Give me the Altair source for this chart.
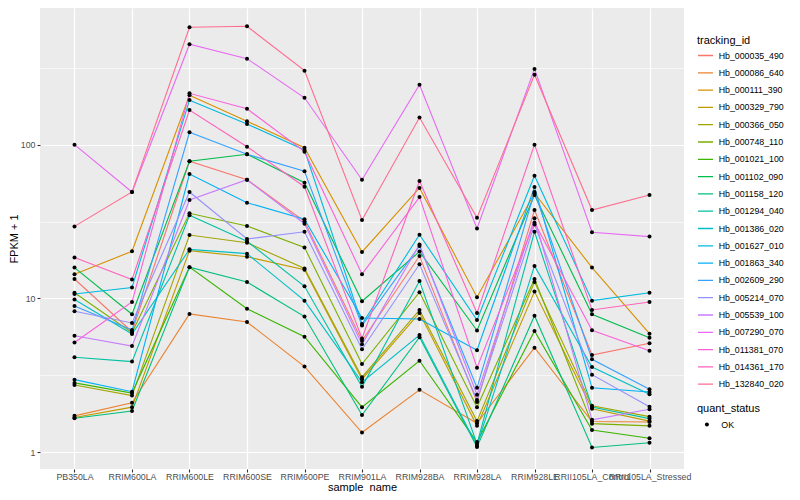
import altair as alt
import pandas as pd

samples = ["PB350LA", "RRIM600LA", "RRIM600LE", "RRIM600SE", "RRIM600PE",
           "RRIM901LA", "RRIM928BA", "RRIM928LA", "RRIM928LE",
           "RRII105LA_Control", "RRII105LA_Stressed"]

tracking_ids = ["Hb_000035_490", "Hb_000086_640", "Hb_000111_390", "Hb_000329_790",
                "Hb_000366_050", "Hb_000748_110", "Hb_001021_100", "Hb_001102_090",
                "Hb_001158_120", "Hb_001294_040", "Hb_001386_020", "Hb_001627_010",
                "Hb_001863_340", "Hb_002609_290", "Hb_005214_070", "Hb_005539_100",
                "Hb_007290_070", "Hb_011381_070", "Hb_014361_170", "Hb_132840_020"]

colors = ["#F8766D", "#EA8331", "#D89000", "#C09B00", "#A3A500", "#7CAE00",
          "#39B600", "#00BB4E", "#00BF7D", "#00C1A3", "#00BFC4", "#00BAE0",
          "#00B0F6", "#35A2FF", "#9590FF", "#C77CFF", "#E76BF3", "#FA62DB",
          "#FF62BC", "#FF6C91"]

# FPKM + 1 per sample (same order as samples)
Hb_000035_490 = [13.4, 6.08, 78.3, 59.4, 31.8, 5.31, 18.9, 2.12, 37.7, 4.28, 5.11]
Hb_000086_640 = [1.72, 2.09, 7.93, 7.03, 3.60, 1.34, 2.54, 1.54, 4.78, 1.58, 1.57]
Hb_000111_390 = [14.4, 20.3, 211, 143, 96.0, 20.1, 52.5, 10.2, 48.5, 15.9, 5.90]
Hb_000329_790 = [1.68, 1.96, 20.5, 18.7, 15.4, 2.98, 8.05, 1.48, 11.1, 1.91, 1.59]
Hb_000366_050 = [2.73, 2.33, 25.9, 23.1, 15.7, 3.07, 8.42, 1.59, 12.8, 2.00, 1.70]
Hb_000748_110 = [10.9, 5.99, 35.9, 29.7, 21.5, 3.74, 11.0, 1.96, 13.4, 1.53, 1.48]
Hb_001021_100 = [2.82, 2.42, 16.0, 8.58, 5.64, 1.96, 3.93, 1.16, 6.14, 1.39, 1.23]
Hb_001102_090 = [15.9, 7.89, 78.3, 87.0, 56.8, 9.59, 20.2, 6.19, 47.2, 7.89, 5.55]
Hb_001158_120 = [1.66, 1.85, 16.0, 12.8, 7.63, 1.74, 5.59, 1.08, 7.73, 1.07, 1.15]
Hb_001294_040 = [4.14, 3.88, 34.8, 23.6, 12.0, 2.66, 13.0, 1.13, 27.2, 1.96, 1.65]
Hb_001386_020 = [9.85, 5.87, 20.9, 19.6, 9.68, 2.85, 5.78, 1.10, 16.3, 3.58, 2.38]
Hb_001627_010 = [10.7, 11.8, 196, 137, 92.8, 6.82, 26.0, 7.24, 63.1, 9.68, 10.9]
Hb_001863_340 = [2.96, 2.47, 64.7, 42.1, 32.8, 7.46, 7.35, 4.60, 53.3, 2.62, 2.46]
Hb_002609_290 = [8.94, 6.23, 121, 87.0, 67.4, 6.67, 22.0, 2.62, 49.4, 4.02, 2.56]
Hb_005214_070 = [8.25, 6.93, 49.4, 24.4, 27.2, 4.67, 16.7, 2.18, 30.3, 3.19, 1.97]
Hb_005539_100 = [5.72, 4.90, 43.8, 59.4, 30.7, 5.03, 22.5, 2.36, 33.3, 1.62, 1.90]
Hb_007290_070 = [100.5, 49.4, 453, 365, 203, 59.4, 247, 28.6, 313, 27.0, 25.3]
Hb_011381_070 = [5.17, 9.49, 217, 172, 90.5, 14.4, 45.8, 3.54, 31.2, 6.21, 4.57]
Hb_014361_170 = [18.5, 13.3, 169, 97.5, 53.5, 5.49, 58.3, 8.05, 100.5, 8.42, 9.49]
Hb_132840_020 = [29.5, 49.4, 585, 593, 305, 32.5, 151, 33.6, 287, 37.7, 47.2]

series = {
    "Hb_000035_490": Hb_000035_490, "Hb_000086_640": Hb_000086_640,
    "Hb_000111_390": Hb_000111_390, "Hb_000329_790": Hb_000329_790,
    "Hb_000366_050": Hb_000366_050, "Hb_000748_110": Hb_000748_110,
    "Hb_001021_100": Hb_001021_100, "Hb_001102_090": Hb_001102_090,
    "Hb_001158_120": Hb_001158_120, "Hb_001294_040": Hb_001294_040,
    "Hb_001386_020": Hb_001386_020, "Hb_001627_010": Hb_001627_010,
    "Hb_001863_340": Hb_001863_340, "Hb_002609_290": Hb_002609_290,
    "Hb_005214_070": Hb_005214_070, "Hb_005539_100": Hb_005539_100,
    "Hb_007290_070": Hb_007290_070, "Hb_011381_070": Hb_011381_070,
    "Hb_014361_170": Hb_014361_170, "Hb_132840_020": Hb_132840_020,
}

rows = []
for tid in tracking_ids:
    for s, v in zip(samples, series[tid]):
        rows.append({"tracking_id": tid, "sample_name": s, "fpkm": v, "quant_status": "OK"})
df = pd.DataFrame(rows)

FONT = "Liberation Sans"
major = "datum.value == 1 || datum.value == 10 || datum.value == 100"

x_enc = alt.X(
    "sample_name:N", sort=samples,
    scale=alt.Scale(type="point", padding=0.6, domain=samples),
    axis=alt.Axis(title="sample_name", labelAngle=0, labelOverlap=False, labelBound=False,
                  labelFlush=False, labelLimit=0, labelFontSize=8.8, labelColor="#4D4D4D",
                  labelPadding=0.5, tickColor="#333333", tickSize=3, tickWidth=1.1,
                  domain=False, grid=True, gridColor="white", gridWidth=1.2,
                  titleFontSize=11, titleColor="black", titleFontWeight="normal",
                  titlePadding=0),
)
y_enc = alt.Y(
    "fpkm:Q",
    scale=alt.Scale(type="log", domain=[0.775, 780.5], nice=False),
    axis=alt.Axis(title="FPKM + 1",
                  values=[1, 3.1623, 10, 31.623, 100, 316.23],
                  labelExpr="datum.value == 1 ? '1' : datum.value == 10 ? '10' : datum.value == 100 ? '100' : ''",
                  labelFontSize=8.8, labelColor="#4D4D4D", labelPadding=2,
                  tickColor="#333333", tickSize=3, tickWidth=1.1,
                  tickOpacity={"condition": {"test": major, "value": 1}, "value": 0},
                  domain=False, grid=True, gridColor="white",
                  gridWidth={"condition": {"test": major, "value": 1.2}, "value": 0.6},
                  titleFontSize=11, titleColor="black", titleFontWeight="normal",
                  titlePadding=1),
)

lines = alt.Chart(df).mark_line(strokeWidth=1.1).encode(
    x=x_enc, y=y_enc,
    color=alt.Color("tracking_id:N",
                    scale=alt.Scale(domain=tracking_ids, range=colors),
                    legend=alt.Legend(title="tracking_id", orient="none", legendX=657, legendY=27,
                                      symbolType="stroke", symbolSize=225, symbolStrokeWidth=1.3,
                                      labelFontSize=8.8, labelColor="black", titleFontSize=11,
                                      titleFontWeight="normal", titleColor="black",
                                      clipHeight=16, rowPadding=1.3, titlePadding=1.5,
                                      labelOffset=4.7, padding=0)),
)

points = alt.Chart(df).mark_point(filled=True, size=16, color="black", opacity=1).encode(
    x=x_enc, y=y_enc,
    shape=alt.Shape("quant_status:N",
                    scale=alt.Scale(domain=["OK"], range=["circle"]),
                    legend=alt.Legend(title="quant_status", orient="none", legendX=657, legendY=395,
                                      symbolSize=16, symbolFillColor="black", symbolStrokeColor="black",
                                      symbolOffset=5.5, labelFontSize=8.8, labelColor="black",
                                      titleFontSize=11, titleFontWeight="normal", titleColor="black",
                                      clipHeight=17, titlePadding=2, labelOffset=10, padding=0)),
)

chart = alt.layer(lines, points).properties(
    width=644, height=461,
    autosize=alt.AutoSizeParams(type="none"),
    padding={"left": 32, "top": 0, "right": 100, "bottom": 23},
).configure(font=FONT).configure_view(fill="#EBEBEB", stroke=None)

chart.save("out.html", embed_options={"renderer": "svg", "actions": False})
